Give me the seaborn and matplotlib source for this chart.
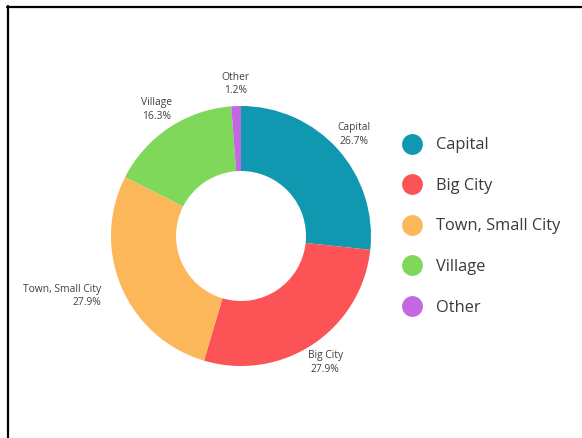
import numpy as np
import matplotlib
matplotlib.use("Agg")
import matplotlib.pyplot as plt
from matplotlib.lines import Line2D
import seaborn as sns

categories = ["Capital", "Big City", "Town, Small City", "Village", "Other"]
shares = [26.7, 27.9, 27.9, 16.3, 1.2]
hex_colors = ["#1198B1", "#FC5357", "#FDB75B", "#7FD85A", "#C468E2"]

sns.set_theme(style="white")
plt.rcParams["font.family"] = ["Open Sans", "DejaVu Sans"]
palette = sns.color_palette(hex_colors)

W, H = 582, 438
fig = plt.figure(figsize=(W / 100, H / 100), dpi=100)
fig.patch.set_facecolor("white")

# donut axes: centre (241, 236) px, radius 130 px
cx, cy, r = 241, 236, 130
ax = fig.add_axes([(cx - r) / W, (H - cy - r) / H, 2 * r / W, 2 * r / H])

wedges, _ = ax.pie(
    shares,
    colors=palette,
    startangle=90,
    counterclock=False,
    radius=1.0,
    wedgeprops=dict(width=0.5, edgecolor="none", linewidth=0),
)
ax.set_xlim(-1, 1)
ax.set_ylim(-1, 1)
ax.set_aspect("equal")
ax.axis("off")

# outside labels with name and percentage
for w, name, val in zip(wedges, categories, shares):
    ang = np.deg2rad((w.theta1 + w.theta2) / 2)
    x, y = 1.17 * np.cos(ang), 1.17 * np.sin(ang)
    ha = "right" if np.cos(ang) < -0.8 else "center"
    ax.text(x, y, f"{name}\n{val:.1f}%", ha=ha, va="center",
            fontsize=7.4, color="#404040", linespacing=1.35, clip_on=False)

# legend with round markers
handles = [Line2D([0], [0], marker="o", linestyle="none", markersize=15,
                  markerfacecolor=c, markeredgecolor="none") for c in palette]
fig.legend(handles, categories, loc="center left",
           bbox_to_anchor=(404 / W, 1 - 226.5 / H), frameon=False,
           fontsize=11.8, labelcolor="#3a3a3a", handlelength=1.0,
           handletextpad=0.96, labelspacing=1.5, borderpad=0,
           borderaxespad=0)

# frame lines on the top and left edges
fig.add_artist(Line2D([7 / W, 1], [1 - 6.5 / H, 1 - 6.5 / H], color="black",
                      lw=1.6, transform=fig.transFigure))
fig.add_artist(Line2D([7.5 / W, 7.5 / W], [0, 1 - 6 / H], color="black",
                      lw=1.6, transform=fig.transFigure))

fig.savefig("out.png", dpi=100, facecolor="white")
